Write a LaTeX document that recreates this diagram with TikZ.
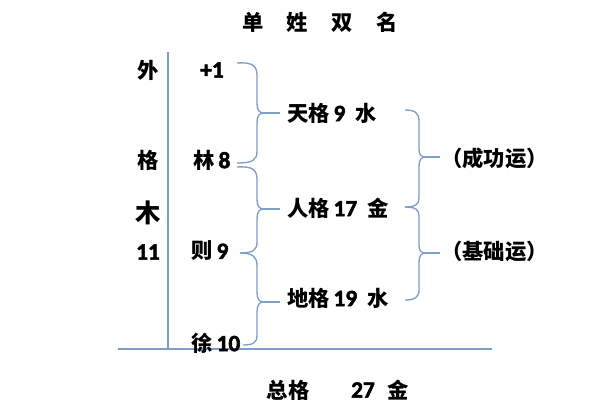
\documentclass[tikz,border=0pt]{standalone}
\usepackage{fontspec}
\setmainfont{Noto Sans CJK SC}
\newfontfamily\numfont{Carlito}[FakeBold=2.2]
\newcommand\nm[1]{{\numfont\fontsize{17.5}{19}\selectfont #1}}
\definecolor{braceblue}{RGB}{125,158,198}
\tikzset{
  lbl/.style={inner sep=0.75pt,font=\fontsize{16}{18}\selectfont\bfseries},
  bline/.style={color=braceblue,line width=1pt}
}
\begin{document}
\begin{tikzpicture}[x=0.75pt,y=0.75pt,yscale=-1,xscale=1]
\useasboundingbox (0,0) rectangle (598,416);
%Straight Lines
\draw [bline] (168,52) -- (168,349) ;
\draw [bline] (118,349) -- (492,349) ;
%Curve Lines (tian ge)
\draw [bline] (237,63) .. controls (253,62) and (257,66) .. (257,76) -- (257,103) .. controls (257,110) and (259,113) .. (264,113) .. controls (259,113) and (257,116) .. (257,123) -- (257,151) .. controls (257,160) and (253,163) .. (237,163) ;
\draw [bline] (264,113) -- (280,113) ;
%Curve Lines (ren ge)
\draw [bline] (237,167) .. controls (253,166) and (257,170) .. (257,180) -- (257,199) .. controls (257,206) and (259,209) .. (264,209) .. controls (259,209) and (257,212) .. (257,219) -- (257,242) .. controls (257,250) and (253,253) .. (240,253) ;
\draw [bline] (264,209) -- (280,209) ;
%Curve Lines (di ge)
\draw [bline] (240,253) .. controls (253,253) and (257,257) .. (257,266) -- (257,292) .. controls (257,299) and (259,302) .. (264,302) .. controls (259,302) and (257,305) .. (257,312) -- (257,335) .. controls (257,343) and (253,345) .. (243,345) ;
\draw [bline] (264,302) -- (280,302) ;
%Curve Lines (yun)
\draw [bline] (405,110) .. controls (415,110) and (419,113) .. (419,121) -- (419,149) .. controls (419,155) and (421,157) .. (426,157) .. controls (421,157) and (419,160) .. (419,166) -- (419,198) .. controls (419,204) and (416,207) .. (405,207) ;
\draw [bline] (405,207) .. controls (416,207) and (419,210) .. (419,216) -- (419,245) .. controls (419,251) and (421,253) .. (426,253) .. controls (421,253) and (419,256) .. (419,262) -- (419,290) .. controls (419,297) and (415,300) .. (405,300) ;
\draw [bline] (426,157) -- (440,157) ;
\draw [bline] (426,253) -- (440,253) ;

% Text Node
\node [lbl] (title) at (320,22) {单\hspace{1.1em}姓\hspace{1.1em}双\hspace{1.1em}名};
% Text Node
\node [lbl] (wai) at (148,70) {外};
\node [lbl] (ge) at (148,160) {格};
\node [inner sep=0.75pt,font=\fontsize{19}{21}\selectfont\bfseries] (mu) at (148,213) {木};
\node [lbl] (waishu) at (148,252) {\nm{11}};
% Text Node
\node [lbl] (jia) at (212,70) {\nm{+1}};
\node [lbl] (lin) at (212,160) {林\,\nm{8}};
\node [lbl] (ze) at (210,251) {则\,\nm{9}};
\node [lbl] (xu) at (216,343) {徐\,\nm{10}};
% Text Node
\node [lbl,anchor=west] (tian) at (286,113) {天格\,\nm{9}\enspace 水};
\node [lbl,anchor=west] (ren) at (286,208) {人格\,\nm{17}\enspace 金};
\node [lbl,anchor=west] (di) at (286,298) {地格\,\nm{19}\enspace 水};
% Text Node
\node [lbl,anchor=west] (chenggong) at (440,158) {（成功运）};
\node [lbl,anchor=west] (jichu) at (440,251) {（基础运）};
% Text Node
\node [lbl] (zong) at (288,390) {总格};
\node [lbl] (zongshu) at (363,390) {\nm{27}};
\node [lbl] (zongxing) at (398,390) {金};
\end{tikzpicture}
\end{document}
